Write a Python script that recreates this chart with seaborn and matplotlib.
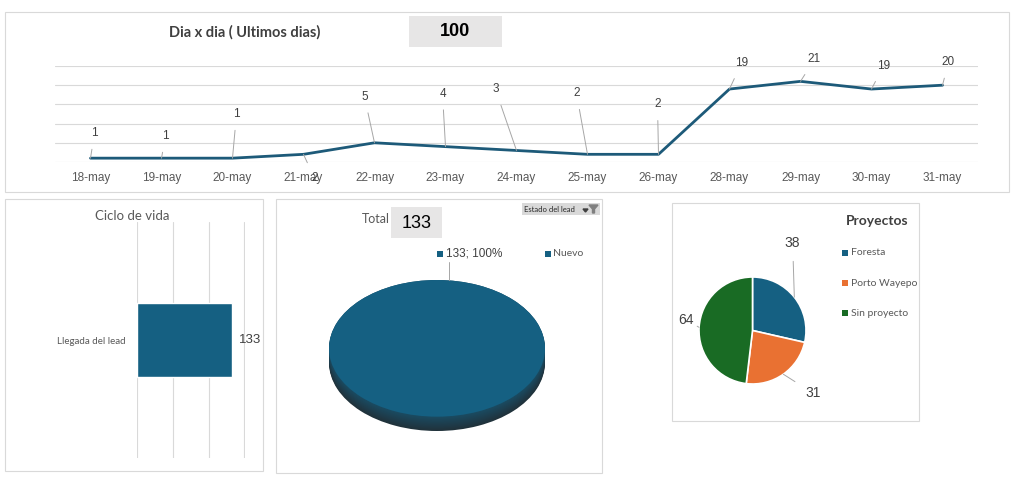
import numpy as np
import matplotlib
matplotlib.use('Agg')
import matplotlib.pyplot as plt
from matplotlib.patches import Rectangle, Polygon
import seaborn as sns

# Datos del tablero
dias = ['18-may', '19-may', '20-may', '21-may', '22-may', '23-may', '24-may',
        '25-may', '26-may', '28-may', '29-may', '30-may', '31-may']
leads_dia = [1, 1, 1, 2, 5, 4, 3, 2, 2, 19, 21, 19, 20]

etapas = ['Llegada del lead']
etapa_vals = [133]

estados = ['Nuevo']
estado_vals = [133]

proyectos = ['Foresta', 'Porto Wayepo', 'Sin proyecto']
proyecto_vals = [38, 31, 64]

# posiciones de las etiquetas (pixeles, relativo al punto)
label_offsets = [(4, 25), (4, 22), (4, 44), (11, -24), (-10, 46), (-3, 53), (-21, 61),
                 (-11, 61), (-1, 50), (12, 26), (14, 22), (12, 23), (6, 23)]

BLUE = '#156082'
ORANGE = '#E97132'
GREEN = '#196B24'
LINE = '#1d5a79'
GRID = '#d9d9d9'
TXT = '#595959'
DARK = '#404040'

sns.set_theme(style='white')
plt.rcParams['font.family'] = ['Lato', 'DejaVu Sans']

W, H = 1024, 495
fig = plt.figure(figsize=(W / 100, H / 100), dpi=100)
fig.patch.set_facecolor('white')


def px_axes(x0, y0, x1, y1):
    return fig.add_axes([x0 / W, 1 - y1 / H, (x1 - x0) / W, (y1 - y0) / H])


def fx(x):
    return x / W


def fy(y):
    return 1 - y / H


def box(x0, y0, x1, y1, fill=None, edge=GRID, lw=0.8):
    r = Rectangle((fx(x0), fy(y1)), (x1 - x0) / W, (y1 - y0) / H,
                  transform=fig.transFigure, facecolor=fill if fill else 'none',
                  edgecolor=edge if edge else 'none', lw=lw, zorder=0)
    fig.add_artist(r)


# marcos de los paneles
box(5, 12, 1009, 192)
box(5, 199, 263, 471)
box(276, 199, 602, 473)
box(672, 203, 919, 421)

# ---- Panel superior: dia x dia ----
fig.text(fx(245), fy(32), 'Dia x dia ( Ultimos dias)', ha='center', va='center',
         fontsize=10.5, fontweight='bold', color=DARK)
box(409, 16, 502, 47, fill='#e7e6e6', edge=None)
fig.text(fx(455), fy(32), str(sum(leads_dia)), ha='center', va='center',
         fontsize=13, fontweight='bold', color='black', family='Liberation Sans')

ax = px_axes(55, 66, 978, 162)
sns.lineplot(x=dias, y=leads_dia, sort=False, color=LINE, lw=2, ax=ax)
ax.set_xlim(-0.5, len(dias) - 0.5)
ax.set_ylim(0, 25)
ax.set_yticks(range(0, 26, 5))
ax.yaxis.grid(True, color=GRID, lw=0.8)
ax.xaxis.grid(False)
ax.set_yticklabels([])
ax.set_xlabel('')
ax.set_ylabel('')
for s in ax.spines.values():
    s.set_visible(False)
ax.tick_params(axis='both', length=0)
ax.tick_params(axis='x', pad=7, labelsize=8.5, labelcolor=TXT)
for lab in ax.get_xticklabels():
    lab.set_family('Liberation Sans')
for i, (v, off) in enumerate(zip(leads_dia, label_offsets)):
    ax.annotate(str(v), xy=(i, v), xytext=off, textcoords='offset pixels',
                ha='center', va='center', fontsize=8.5, color=DARK, family='Liberation Sans',
                annotation_clip=False,
                arrowprops=dict(arrowstyle='-', color='#a6a6a6', lw=0.7,
                                shrinkA=5, shrinkB=0))

# ---- Ciclo de vida ----
fig.text(fx(132), fy(216), 'Ciclo de vida', ha='center', va='center',
         fontsize=9.5, color=TXT)
ax2 = px_axes(137, 222, 245, 458)
sns.barplot(x=etapa_vals, y=etapas, orient='h', color=BLUE, saturation=1,
            width=0.31, ax=ax2)
ax2.set_xlim(0, 151)
ax2.set_ylim(0.5, -0.5)
ax2.set_xticks(range(0, 151, 50))
ax2.xaxis.grid(True, color=GRID, lw=0.8)
ax2.set_xticklabels([])
ax2.set_xlabel('')
ax2.set_ylabel('')
for s in ax2.spines.values():
    s.set_visible(False)
ax2.tick_params(axis='both', length=0)
ax2.tick_params(axis='y', pad=8, labelsize=7, labelcolor=TXT)
ax2.bar_label(ax2.containers[0], padding=5, fontsize=9.5, color=DARK,
              family='Liberation Sans')

# ---- Estado del lead (pastel 3D) ----
fig.text(fx(390), fy(219), 'Total', ha='right', va='center', fontsize=9, color=TXT)
box(391, 207, 442, 238, fill='#e7e6e6', edge=None)
fig.text(fx(417), fy(223), str(sum(estado_vals)), ha='center', va='center',
         fontsize=13, color='black', family='Liberation Sans')

box(522, 203, 600, 215, fill='#d9d9d9', edge=None)
fig.text(fx(524), fy(209.5), 'Estado del lead', ha='left', va='center',
         fontsize=5.5, color='#262626')
fig.add_artist(Polygon([(fx(583), fy(209)), (fx(588), fy(209)), (fx(585.5), fy(212))],
                       closed=True, transform=fig.transFigure, color='#404040'))
fig.add_artist(Polygon([(fx(589), fy(205)), (fx(598), fy(205)), (fx(594.5), fy(209)),
                        (fx(594.5), fy(213)), (fx(592.5), fy(213)), (fx(592.5), fy(209))],
                       closed=True, transform=fig.transFigure, color='#7f7f7f'))

ax3 = px_axes(329, 280, 545, 431)
t = 0.21
side_cols = sns.dark_palette(BLUE, n_colors=30)[6:20]
for k, d in enumerate(np.linspace(t, 0.0, len(side_cols))):
    ax3.pie(estado_vals, colors=[side_cols[k]], center=(0, -d), radius=1,
            wedgeprops=dict(linewidth=0))
ax3.pie(estado_vals, colors=[BLUE], center=(0, 0), radius=1,
        wedgeprops=dict(linewidth=0))
ax3.set_aspect('auto')
ax3.set_xlim(-1, 1)
ax3.set_ylim(-1 - t, 1)
ax3.axis('off')

pct = estado_vals[0] / sum(estado_vals) * 100
box(437, 251, 443, 257, fill=BLUE, edge=None)
fig.text(fx(446), fy(254), f'{estado_vals[0]}; {pct:.0f}%', ha='left', va='center',
         fontsize=8.5, color=DARK, family='Liberation Sans')
fig.add_artist(plt.Line2D([fx(449), fx(449)], [fy(262), fy(280)],
                          transform=fig.transFigure, color='#a6a6a6', lw=0.7))
box(545, 251, 551, 257, fill=BLUE, edge=None)
fig.text(fx(553), fy(254), estados[0], ha='left', va='center', fontsize=7.5, color=TXT)

# ---- Proyectos ----
fig.text(fx(877), fy(221), 'Proyectos', ha='center', va='center',
         fontsize=10, fontweight='bold', color=DARK)
ax4 = px_axes(699, 277, 806, 384)
wedges, _ = ax4.pie(proyecto_vals, colors=[BLUE, ORANGE, GREEN], startangle=90,
                    counterclock=False, radius=1,
                    wedgeprops=dict(edgecolor='white', linewidth=1.2))
ax4.set_aspect('equal')
ax4.set_xlim(-1, 1)
ax4.set_ylim(-1, 1)
ax4.axis('off')
pie_label_pos = [(0.75, 1.64), (1.13, -1.17), (-1.24, 0.20)]
for w, v, pos in zip(wedges, proyecto_vals, pie_label_pos):
    ang = np.deg2rad((w.theta1 + w.theta2) / 2)
    ax4.annotate(str(v), xy=(np.cos(ang), np.sin(ang)), xytext=pos,
                 textcoords='data', ha='center', va='center', fontsize=10,
                 color=DARK, family='Liberation Sans', annotation_clip=False,
                 arrowprops=dict(arrowstyle='-', color='#a6a6a6', lw=0.7,
                                 shrinkA=6, shrinkB=0))

for k, (name, col) in enumerate(zip(proyectos, [BLUE, ORANGE, GREEN])):
    yy = 253 + 30 * k
    box(842, yy - 3, 848, yy + 3, fill=col, edge=None)
    fig.text(fx(851), fy(yy), name, ha='left', va='center', fontsize=7.5, color=TXT)

fig.savefig('out.png', dpi=100, facecolor='white')
